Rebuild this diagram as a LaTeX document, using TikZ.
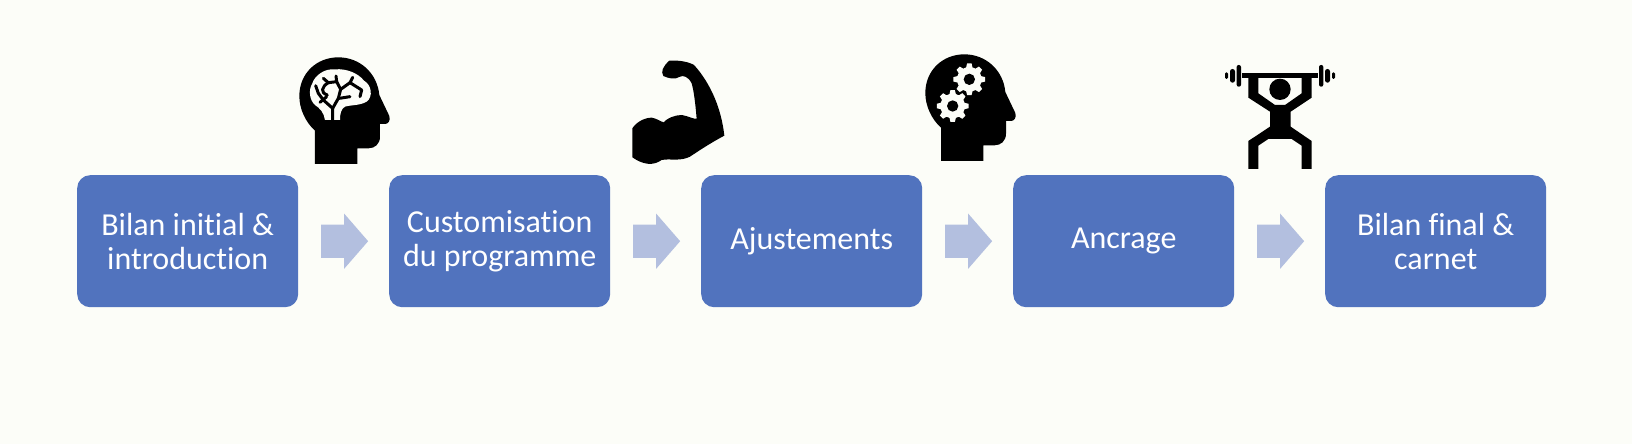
\documentclass[tikz,border=0pt]{standalone}
\usepackage{fontspec}
\setmainfont[Ligatures=CommonOff]{Carlito}
\usetikzlibrary{shapes.arrows,calc}
\definecolor{bgc}{HTML}{FCFDF8}
\definecolor{boxc}{HTML}{5173BE}
\definecolor{arrc}{HTML}{B3BFDF}
\tikzset{
  stage/.style={fill=boxc,draw=none,rounded corners=13pt,minimum width=221pt,minimum height=132pt,inner sep=0pt,
    text=white,align=center,font=\fontsize{32}{34}\selectfont,anchor=north west},
  flow/.style={single arrow,fill=arrc,draw=none,minimum height=47pt,inner sep=0pt,
    single arrow head extend=11pt,single arrow tip angle=98,anchor=tip},
  icon/.style={x=0.3333pt,y=-0.3333pt,fill=black,draw=none},
  twig/.style={draw=black,line width=3pt,line cap=round,line join=round,fill=none},
}
\newcommand{\headshape}{(135,372) -- (135,272) .. controls (105,245) and (88,205) .. (88,168)
  .. controls (88,100) and (140,52) .. (205,52)
  .. controls (270,52) and (322,100) .. (328,165)
  -- (358,228) .. controls (362,242) and (355,252) .. (345,252) -- (330,252) -- (330,290)
  .. controls (330,312) and (315,325) .. (295,325) -- (262,325) -- (262,372) -- cycle}
\newcommand{\gearat}[2]{%
  \begin{scope}[shift={(#1,#2)}]
    \fill[bgc] (8:48)
      \foreach \a in {0,45,...,315}{
        -- ({\a+8}:48) -- ({\a+15}:37) -- ({\a+30}:37) -- ({\a+37}:48)
      } -- cycle;
    \fill[black] (0,0) circle[radius=17];
  \end{scope}}
\newcommand{\shaftrule}{\rule{0pt}{33pt}}
\begin{document}
\begin{tikzpicture}[x=1pt,y=-1pt]
\useasboundingbox (0,0) rectangle (1632,444);
\fill[bgc] (0,0) rectangle (1632,444);
% stages
\node[stage] (b1) at (77,175) {Bilan initial \&\\introduction};
\node[stage] (b2) at (389,175) {Customisation\\du programme};
\node[stage] (b3) at (701,175) {Ajustements};
\node[stage] (b4) at (1013,175) {Ancrage};
\node[stage] (b5) at (1325,175) {Bilan final \&\\carnet};
% block arrows
\node[flow] (a1) at ($(b1.east)+(70,0)$) {\shaftrule};
\node[flow] (a2) at ($(b2.east)+(70,0)$) {\shaftrule};
\node[flow] (a3) at ($(b3.east)+(70,0)$) {\shaftrule};
\node[flow] (a4) at ($(b4.east)+(70,0)$) {\shaftrule};
% brain head
\begin{scope}[shift={(270,40)},icon]
  \fill \headshape;
  \fill[bgc] (165,240) .. controls (162,218) and (150,205) .. (135,195)
    .. controls (118,180) and (115,150) .. (127,130)
    .. controls (135,105) and (165,85) .. (195,88)
    .. controls (230,85) and (265,100) .. (282,122)
    .. controls (305,135) and (310,170) .. (290,185)
    .. controls (270,197) and (240,195) .. (225,200)
    .. controls (213,206) and (210,222) .. (210,240) -- cycle;
  \draw[twig] (188,240) -- (188,205) -- (160,180) -- (145,160) -- (137,137);
  \draw[twig] (150,187) -- (170,170);
  \draw[twig] (188,205) -- (205,175) -- (212,148) -- (200,125) -- (198,108);
  \draw[twig] (200,125) -- (175,128) -- (160,115);
  \draw[twig] (175,128) .. controls (155,140) and (150,158) .. (172,165);
  \draw[twig] (212,148) -- (240,128) -- (248,112);
  \draw[twig] (240,128) -- (275,150) -- (270,170);
  \draw[twig] (208,175) -- (240,170);
\end{scope}
% muscle
\begin{scope}[shift={(620,50)},icon]
  \fill (37,235) .. controls (50,215) and (75,203) .. (95,203)
    .. controls (110,205) and (122,215) .. (131,217)
    .. controls (140,205) and (165,195) .. (185,195)
    .. controls (205,198) and (220,208) .. (230,206)
    .. controls (226,160) and (222,125) .. (215,100)
    .. controls (205,80) and (190,75) .. (180,80)
    .. controls (165,90) and (145,85) .. (130,78)
    .. controls (122,65) and (128,50) .. (148,32)
    .. controls (175,30) and (205,35) .. (222,45)
    .. controls (245,70) and (300,140) .. (313,257)
    .. controls (270,280) and (240,300) .. (210,320)
    .. controls (180,335) and (150,325) .. (125,330)
    .. controls (100,348) and (70,345) .. (37,322) -- cycle;
\end{scope}
% gear head
\begin{scope}[shift={(896,37)},icon]
  \fill \headshape;
  \gearat{220}{127}
  \gearat{170}{207}
\end{scope}
% weight lifter
\begin{scope}[shift={(1220,55)},icon]
  \fill (65,53) rectangle (295,68);
  \fill[rounded corners=2pt] (50,30) rectangle (63,95);
  \fill[rounded corners=2pt] (297,30) rectangle (310,95);
  \fill[rounded corners=2.4pt] (30,42) rectangle (45,83);
  \fill[rounded corners=2.4pt] (315,42) rectangle (330,83);
  \fill[rounded corners=1.4pt] (15,52) rectangle (24,72);
  \fill[rounded corners=1.4pt] (336,52) rectangle (345,72);
  \fill (180,103) circle[radius=32];
  \fill (85,68) -- (85,128) -- (150,170) -- (150,215) -- (85,258) -- (85,342) -- (115,342)
    -- (115,272) -- (145,252) -- (215,252) -- (245,272) -- (245,342) -- (275,342) -- (275,258)
    -- (212,215) -- (212,170) -- (275,128) -- (275,68) -- (245,68) -- (245,115) -- (195,150)
    -- (165,150) -- (115,115) -- (115,68) -- cycle;
\end{scope}
\end{tikzpicture}
\end{document}
